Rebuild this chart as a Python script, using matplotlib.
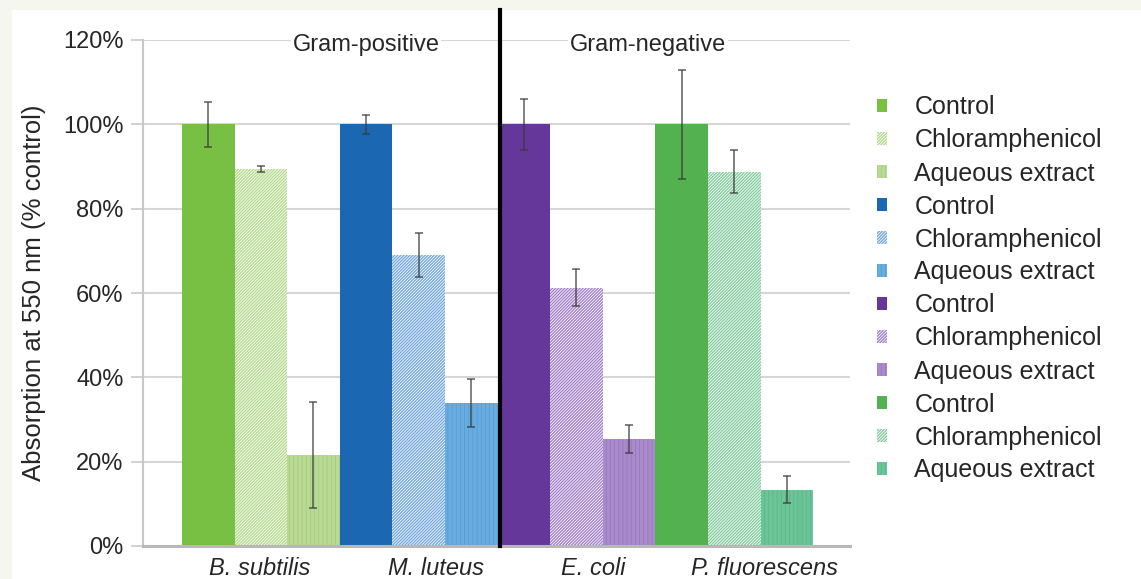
"""Growth inhibition by extract: absorption at 550 nm relative to control."""
import matplotlib
matplotlib.use("Agg")
import matplotlib.pyplot as plt
import numpy as np
from matplotlib.patches import Patch, Rectangle
from matplotlib.ticker import PercentFormatter

plt.rcParams["font.family"] = ["Liberation Sans", "DejaVu Sans"]
plt.rcParams["hatch.linewidth"] = 0.55

species = ["B. subtilis", "M. luteus", "E. coli", "P. fluorescens"]
treatments = ["Control", "Chloramphenicol", "Aqueous extract"]

control = [100.0, 100.0, 100.0, 100.0]
chloramphenicol = [89.5, 69.0, 61.3, 88.8]
aqueous = [21.6, 34.0, 25.4, 13.3]

control_err = [5.3, 2.2, 6.0, 13.0]
chloramphenicol_err = [0.7, 5.3, 4.3, 5.0]
aqueous_err = [12.5, 5.7, 3.4, 3.2]

# base colour per species: control, chloramphenicol, aqueous extract
palette = [
    ["#78c043", "#b5da8e", "#b9da95"],
    ["#1b67b2", "#74a8de", "#69ade0"],
    ["#65379a", "#a281c9", "#a98bcc"],
    ["#53b14f", "#86cca0", "#6cc598"],
]
stripe = ["#a3cc7b", "#559bd3", "#9675c0", "#57b685"]

label_pos = [0.98, 4.33, 7.31, 10.58]
group_titles = ["Gram-positive", "Gram-negative"]

values = np.array([control, chloramphenicol, aqueous])
errors = np.array([control_err, chloramphenicol_err, aqueous_err])

fig = plt.figure(figsize=(11.41, 5.79), dpi=100, facecolor="#f5f6ee")
fig.patches.append(Rectangle((12 / 1141, 0), 1, 1 - 10 / 579, transform=fig.transFigure,
                             facecolor="white", edgecolor="none", zorder=-10))
ax = fig.add_axes([143 / 1141, 33 / 579, 707 / 1141, 506 / 579])

text_color = "#262626"
handles = []
for i, name in enumerate(species):
    for j, treat in enumerate(treatments):
        x = i * 3 + j
        if j == 0:
            style = dict(color=palette[i][j], linewidth=0)
        elif j == 1:
            style = dict(facecolor=palette[i][j], edgecolor="white", hatch="/" * 11, linewidth=0)
        else:
            style = dict(facecolor=palette[i][j], edgecolor=stripe[i], hatch="||||", linewidth=0)
        ax.bar(x, values[j, i], width=1.0, zorder=2, **style)
        ax.errorbar(x, values[j, i], yerr=errors[j, i], fmt="none", ecolor="#3a3a3a",
                    elinewidth=1.2, capsize=3, capthick=1.2, alpha=0.75, zorder=3)
        handles.append(Patch(label=treat, **style))

# divider between the two Gram groups
ax.plot([5.55, 5.55], [0, 127], color="black", linewidth=3, clip_on=False, zorder=4)

ax.set_xlim(-1.24, 12.2)
ax.set_ylim(0, 120)
ax.set_yticks(np.arange(0, 121, 20))
ax.yaxis.set_major_formatter(PercentFormatter(xmax=100, decimals=0))
ax.set_xticks(label_pos)
ax.set_xticklabels(species, fontstyle="italic", fontsize=17, color=text_color)
ax.tick_params(axis="x", length=0, pad=8)
ax.tick_params(axis="y", length=9, width=1.2, color="#c8c8c8", labelsize=17,
               labelcolor=text_color, pad=5)

ax.grid(axis="y", color="#d6d6d6", linewidth=1.5, zorder=0)
ax.set_axisbelow(True)
for side in ("top", "right"):
    ax.spines[side].set_visible(False)
ax.spines["left"].set_color("#c8c8c8")
ax.spines["left"].set_linewidth(1.5)
ax.spines["bottom"].set_color("#b8b8b8")
ax.spines["bottom"].set_linewidth(2.2)

ax.set_ylabel("Absorption at 550 nm (% control)", fontsize=18.5, color=text_color, labelpad=12)

for xpos, title in zip([3.0, 8.36], group_titles):
    ax.text(xpos, 118.8, title, ha="center", va="center", fontsize=17, color=text_color,
            bbox=dict(facecolor="white", edgecolor="none", pad=1), zorder=5)

fig.legend(handles=handles, loc="upper left", bbox_to_anchor=(864 / 1141, 1 - 83 / 579),
           frameon=False, fontsize=18, handlelength=0.42, handleheight=0.42,
           handletextpad=1.1, labelspacing=0.36, borderpad=0, labelcolor=text_color)

fig.savefig("out.png", dpi=100, facecolor=fig.get_facecolor())
